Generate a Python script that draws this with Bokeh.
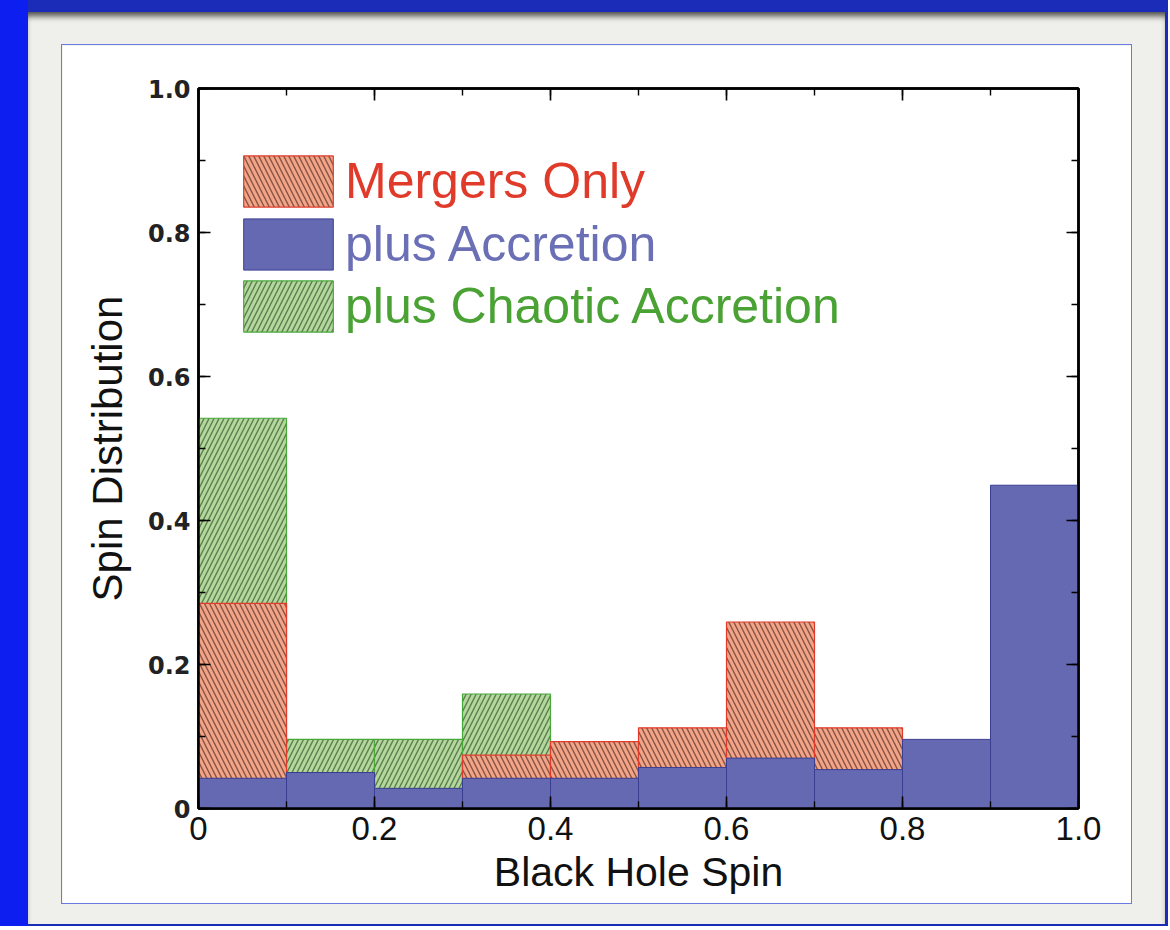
from bokeh.plotting import figure
from bokeh.layouts import column
from bokeh.models import (Range1d, LinearAxis, SingleIntervalTicker,
                          Legend, LegendItem, CustomJSTickFormatter)
from bokeh.embed import file_html
from bokeh.resources import INLINE

# ---- data ----
bin_left = [0.0, 0.1, 0.2, 0.3, 0.4, 0.5, 0.6, 0.7, 0.8, 0.9]
bin_right = [0.1, 0.2, 0.3, 0.4, 0.5, 0.6, 0.7, 0.8, 0.9, 1.0]
mergers_only = [0.285, 0.045, 0.020, 0.074, 0.093, 0.112, 0.259, 0.112, 0.0, 0.0]
plus_accretion = [0.042, 0.050, 0.028, 0.042, 0.042, 0.057, 0.070, 0.054, 0.096, 0.449]
plus_chaotic = [0.542, 0.096, 0.096, 0.159, 0.0, 0.0, 0.0, 0.0, 0.0, 0.0]
series_names = ["Mergers Only", "plus Accretion", "plus Chaotic Accretion"]
x_title = "Black Hole Spin"
y_title = "Spin Distribution"

# white panel figure (page x 62..1131, y 45..903)
W, H = 1069, 858
FL, FR, FT, FB = 136, 53, 43, 95

p = figure(width=W, height=H, output_backend="svg", toolbar_location=None,
           x_range=Range1d(0, 1), y_range=Range1d(0, 1),
           min_border_left=FL, min_border_right=FR, min_border_top=FT, min_border_bottom=FB,
           border_fill_color="white", background_fill_color="white",
           outline_line_color="black", outline_line_width=2.5,
           margin=(33, 34, 21, 34),
           styles={"outline": "1px solid #6a7ae0"})
p.grid.visible = False

# ---- histograms (overlapping) ----
r_green = p.quad(left=bin_left, right=bin_right, bottom=0, top=plus_chaotic,
                 fill_color="#b3d89c", line_color="#47a83a", line_width=1.2,
                 hatch_pattern="right_diagonal_line", hatch_color="#2e4a2a",
                 hatch_alpha=0.65, hatch_scale=10, hatch_weight=1.4)
r_red = p.quad(left=bin_left, right=bin_right, bottom=0, top=mergers_only,
               fill_color="#f3a486", line_color="#e23b2b", line_width=1.2,
               hatch_pattern="left_diagonal_line", hatch_color="#4a2a24",
               hatch_alpha=0.65, hatch_scale=10, hatch_weight=1.4)
r_blue = p.quad(left=bin_left, right=bin_right, bottom=0, top=plus_accretion,
                fill_color="#6569b2", line_color="#3a3e92", line_width=1.0)

# ---- axes ----
def style_axis(ax, labels=True):
    ax.ticker = SingleIntervalTicker(interval=0.2, num_minor_ticks=2)
    ax.axis_line_color = "black"
    ax.axis_line_width = 2.5
    ax.major_tick_in = 12
    ax.major_tick_out = 0
    ax.minor_tick_in = 7
    ax.minor_tick_out = 0
    ax.major_tick_line_width = 1.6
    ax.minor_tick_line_width = 1.4
    ax.major_tick_line_color = "black"
    ax.minor_tick_line_color = "black"
    if not labels:
        ax.formatter = CustomJSTickFormatter(code="return ''")

xa = p.xaxis[0]
ya = p.yaxis[0]
style_axis(xa)
style_axis(ya)
xa.major_label_overrides = {0: "0", 1: "1.0"}
ya.major_label_overrides = {0: "0", 1: "1.0"}
xa.major_label_text_font = "Liberation Sans"
xa.major_label_text_font_size = "33px"
xa.major_label_text_color = "#111111"
xa.major_label_standoff = 8
ya.major_label_text_font = "DejaVu Sans"
ya.major_label_text_font_style = "bold"
ya.major_label_text_font_size = "24px"
ya.major_label_text_color = "#222222"
ya.major_label_standoff = 8
xa.axis_label = x_title
ya.axis_label = y_title
for ax in (xa, ya):
    ax.axis_label_text_font = "Liberation Sans"
    ax.axis_label_text_font_style = "normal"
    ax.axis_label_text_color = "#111111"
xa.axis_label_text_font_size = "41px"
ya.axis_label_text_font_size = "42px"
xa.axis_label_standoff = 6
ya.axis_label_standoff = 14

top_ax = LinearAxis()
right_ax = LinearAxis()
style_axis(top_ax, labels=False)
style_axis(right_ax, labels=False)
p.add_layout(top_ax, "above")
p.add_layout(right_ax, "right")

# ---- legends: one per series, each with its own text colour ----
leg_specs = [(series_names[0], r_red, "#e03a2a", 595),
             (series_names[1], r_blue, "#6a6fb6", 532),
             (series_names[2], r_green, "#4aa234", 470)]
for name, rend, col, ypos in leg_specs:
    lg = Legend(items=[LegendItem(label=name, renderers=[rend])],
                location=(34, ypos), orientation="vertical",
                glyph_width=112, glyph_height=64, label_standoff=1,
                label_text_font="Liberation Sans", label_text_font_size="50px",
                label_text_color=col, padding=0, margin=0, spacing=0,
                border_line_alpha=0, background_fill_alpha=0)
    p.add_layout(lg, "center")

# grey mount and blue surround
grey = column(p, margin=(12, 3, 2, 28),
              styles={"background-color": "#efefeb",
                      "box-shadow": "inset 0 7px 6px -3px #4a4a48"})
page = column(grey, styles={"background": "linear-gradient(to right, #0c1ef0 0px, #0c1ef0 28px, #1b2db8 28px, #1b2db8 100%)"})

open("out.html", "w").write(file_html(page, INLINE))
